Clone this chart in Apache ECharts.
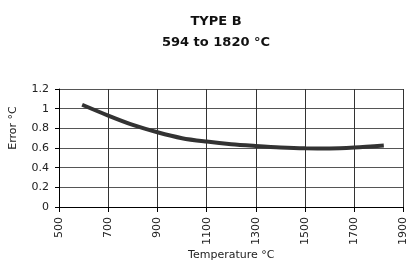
<!DOCTYPE html>
<html>
<head>
<meta charset="utf-8">
<script src="https://cdn.jsdelivr.net/npm/echarts@6/dist/echarts.min.js"></script>
<style>
  html, body { margin: 0; padding: 0; background: #fff; }
  #chart { width: 409px; height: 266px; }
</style>
</head>
<body>
<div id="chart"></div>
<script>
// 温度 / 误差 读自参考图
var temps = [594, 700, 800, 900, 1000, 1100, 1200, 1300, 1400, 1500, 1600, 1700, 1820];
var errors = [1.04, 0.93, 0.835, 0.76, 0.70, 0.665, 0.638, 0.62, 0.605, 0.597, 0.596, 0.605, 0.625];

var xTicks = [500, 700, 900, 1100, 1300, 1500, 1700, 1900];
var yTicks = [0, 0.2, 0.4, 0.6, 0.8, 1, 1.2];

var points = temps.map(function (t, i) { return [t, errors[i]]; });

var mychart = echarts.init(document.getElementById("chart"));
var font = "DejaVu Sans, Verdana, sans-serif";
var option = {
  animation: false,
  title: [
    {
      text: "TYPE B",
      left: 211,
      top: 10,
      textAlign: "center",
      textStyle: { fontFamily: font, fontSize: 13, fontWeight: "bold", color: "#111" },
    },
    {
      text: "594 to 1820 °C",
      left: 211,
      top: 31,
      textAlign: "center",
      textStyle: { fontFamily: font, fontSize: 13, fontWeight: "bold", color: "#111" },
    },
  ],
  grid: {
    left: 57,
    right: 2,
    top: 89,
    bottom: 59,
  },
  xAxis: {
    type: "value",
    min: xTicks[0],
    max: xTicks[xTicks.length - 1],
    interval: 200,
    name: "Temperature °C",
    nameLocation: "middle",
    nameGap: 43,
    nameTextStyle: { fontFamily: font, fontSize: 11, color: "#222" },
    axisLine: { show: true, lineStyle: { color: "#000", width: 1 } },
    axisTick: { show: true, length: 5, lineStyle: { color: "#000" } },
    axisLabel: {
      rotate: 90,
      margin: 10,
      fontFamily: font,
      fontSize: 11,
      color: "#222",
      showMinLabel: true,
      showMaxLabel: true,
      formatter: function (v) { return String(v); },
    },
    splitLine: { show: true, lineStyle: { color: "#333", width: 1 } },
  },
  yAxis: {
    type: "value",
    min: yTicks[0],
    max: yTicks[yTicks.length - 1],
    interval: 0.2,
    name: "Error °C",
    nameLocation: "middle",
    nameGap: 40,
    nameTextStyle: { fontFamily: font, fontSize: 11, color: "#222", padding: [0, 0, 0, 40] },
    axisLine: { show: true, lineStyle: { color: "#000", width: 1 } },
    axisTick: { show: true, length: 4, lineStyle: { color: "#000" } },
    axisLabel: {
      margin: 10,
      fontFamily: font,
      fontSize: 11,
      color: "#222",
      formatter: function (v) { return String(Math.round(v * 10) / 10); },
    },
    splitLine: { show: true, lineStyle: { color: "#555", width: 1 } },
  },
  series: [
    {
      type: "line",
      data: points,
      smooth: 0.3,
      showSymbol: false,
      lineStyle: { color: "#333", width: 4 },
    },
  ],
};
mychart.setOption(option);
</script>
</body>
</html>
